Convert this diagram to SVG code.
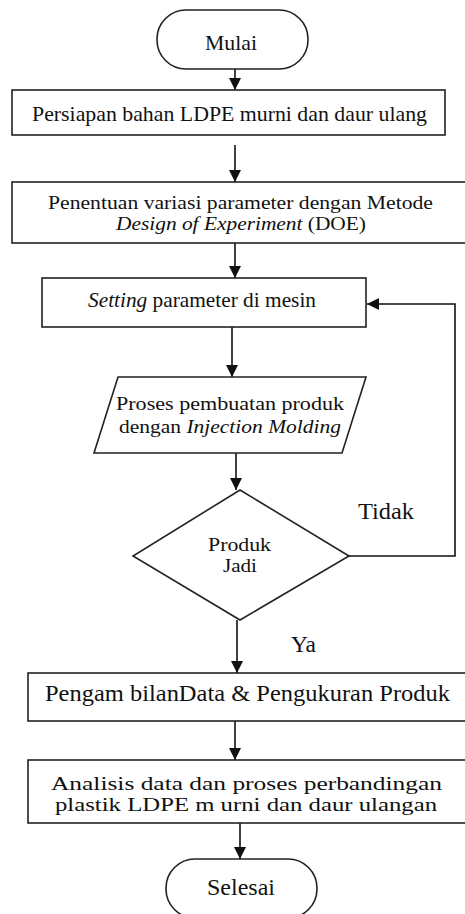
<svg xmlns="http://www.w3.org/2000/svg" width="465" height="914" viewBox="0 0 465 914">
<defs>
<marker id="ah" markerUnits="userSpaceOnUse" markerWidth="12" markerHeight="12" refX="12" refY="6" orient="auto">
<path d="M0,0 L12,6 L0,12 z" fill="#111"/>
</marker>
<style>
.s{fill:#fff;stroke:#222;stroke-width:1.6}
.t{font-family:"Liberation Serif","Times New Roman",serif;font-size:21px;fill:#111;text-anchor:middle}
.m{font-size:18.5px}
.b{font-size:23px}
.c{fill:none;stroke:#111;stroke-width:1.6;marker-end:url(#ah)}
.i{font-style:italic}
</style>
</defs>
<rect width="465" height="914" fill="#fff"/>
<g id="connectors">
<line class="c" x1="235" y1="58" x2="235" y2="90"/>
<line class="c" x1="235" y1="145" x2="235" y2="182"/>
<line class="c" x1="235" y1="243" x2="235" y2="278"/>
<line class="c" x1="232" y1="327" x2="232" y2="377"/>
<line class="c" x1="236" y1="453" x2="236" y2="490"/>
<line class="c" x1="237" y1="620" x2="237" y2="673"/>
<line class="c" x1="235" y1="721" x2="235" y2="760"/>
<line class="c" x1="240" y1="823" x2="240" y2="859"/>
<polyline class="c" points="349,556 455,556 455,304 367,304"/>
<text class="t" x="386" y="519" style="font-size:24px" textLength="56" lengthAdjust="spacingAndGlyphs">Tidak</text>
<text class="t" x="303.5" y="652" style="font-size:24px" textLength="25" lengthAdjust="spacingAndGlyphs">Ya</text>
</g>
<g id="mulai">
<rect class="s" x="157" y="10" width="151" height="59" rx="29" ry="29"/>
<text class="t" x="231" y="50" style="font-size:22px" textLength="52" lengthAdjust="spacingAndGlyphs">Mulai</text>
</g>
<g id="persiapan">
<rect class="s" x="12" y="90" width="433" height="45"/>
<text class="t" x="229.5" y="121" textLength="395" lengthAdjust="spacingAndGlyphs">Persiapan bahan LDPE murni dan daur ulang</text>
</g>
<g id="penentuan">
<rect class="s" x="12" y="182" width="460" height="61"/>
<text class="t m" x="240.5" y="209" textLength="385" lengthAdjust="spacingAndGlyphs">Penentuan variasi parameter dengan Metode</text>
<text class="t m" x="241" y="230" textLength="250" lengthAdjust="spacingAndGlyphs"><tspan class="i">Design of Experiment</tspan> (DOE)</text>
</g>
<g id="setting">
<rect class="s" x="42" y="278" width="324" height="49"/>
<text class="t" x="202" y="307" textLength="228" lengthAdjust="spacingAndGlyphs"><tspan class="i">Setting</tspan> parameter di mesin</text>
</g>
<g id="proses">
<polygon class="s" points="118,377 366,377 342,453 94,453"/>
<text class="t m" x="230" y="410" style="font-size:19.5px" textLength="228" lengthAdjust="spacingAndGlyphs">Proses pembuatan produk</text>
<text class="t m" x="230" y="433" style="font-size:19.5px" textLength="222" lengthAdjust="spacingAndGlyphs">dengan <tspan class="i">Injection Molding</tspan></text>
</g>
<g id="keputusan">
<polygon class="s" points="240,490 349,556 240,620 133,556"/>
<text class="t m" x="239.5" y="551" textLength="63" lengthAdjust="spacingAndGlyphs">Produk</text>
<text class="t m" x="240" y="572" textLength="34" lengthAdjust="spacingAndGlyphs">Jadi</text>
</g>
<g id="pengambilan">
<rect class="s" x="28" y="673" width="444" height="48"/>
<text class="t b" x="247.5" y="701" textLength="405" lengthAdjust="spacingAndGlyphs">Pengam bilanData &amp; Pengukuran Produk</text>
</g>
<g id="analisis">
<rect class="s" x="28" y="760" width="444" height="63"/>
<text class="t" x="246.5" y="790" style="font-size:19px" textLength="391" lengthAdjust="spacingAndGlyphs">Analisis data  dan proses perbandingan</text>
<text class="t" x="246" y="811" style="font-size:19px" textLength="382" lengthAdjust="spacingAndGlyphs">plastik LDPE m urni dan daur ulangan</text>
</g>
<g id="selesai">
<rect class="s" x="166" y="859" width="151" height="59" rx="29" ry="29"/>
<text class="t" x="241" y="895" style="font-size:23px" textLength="68" lengthAdjust="spacingAndGlyphs">Selesai</text>
</g>
</svg>
